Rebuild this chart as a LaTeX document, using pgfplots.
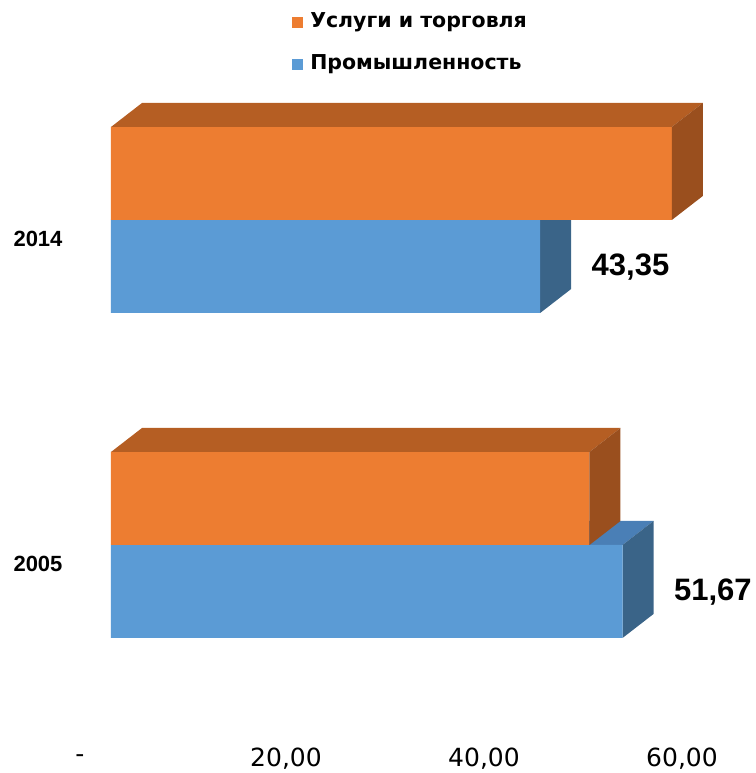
\documentclass[border=0pt]{standalone}
\usepackage{pgfplots}
\pgfplotsset{compat=1.18}
\usepackage{fontspec}
\setmainfont{Liberation Sans}
\newfontfamily\gothic{DejaVu Sans}

\definecolor{orFront}{HTML}{ED7D31}
\definecolor{orTop}{HTML}{B55E23}
\definecolor{orSide}{HTML}{9A4F1E}
\definecolor{blFront}{HTML}{5B9BD5}
\definecolor{blTop}{HTML}{4A7FB6}
\definecolor{blSide}{HTML}{3A6488}

\begin{document}
\begin{tikzpicture}
\path[use as bounding box] (0,0) rectangle (755pt,773pt);
\begin{axis}[
  at={(111pt,0pt)}, anchor=south west,
  scale only axis, width=594pt, height=773pt,
  xmin=0, xmax=60, ymin=-0.70154, ymax=1.67692,
  clip=false,
  axis line style={draw=none}, major tick length=0pt,
  xtick={0,20,40,60},
  xticklabels={{-\rule{16pt}{0pt}},{20,00},{40,00},{60,00}},
  xticklabel style={anchor=center, xshift=-23pt, yshift=14pt,
    font=\gothic\fontsize{25}{29}\selectfont},
  ytick={0,1}, yticklabels={2005,2014},
  yticklabel style={anchor=center, xshift=-73pt, yshift=-19pt,
    font=\bfseries\fontsize{22}{26}\selectfont},
  legend style={at={(0.304,0.987)}, anchor=north west, draw=none, fill=none,
    inner sep=0pt, row sep=21.5pt,
    font=\gothic\bfseries\fontsize{20.5}{25}\selectfont,
    /tikz/every odd column/.append style={column sep=5pt}},
  legend cell align=left,
  legend image code/.code={\fill[#1, draw=none] (0pt,-8pt) rectangle (11.5pt,3.5pt);},
]
% legend entries (orange first)
\addlegendimage{fill=orFront, draw=none}
\addlegendentry{Услуги и торговля}
\addlegendimage{fill=blFront, draw=none}
\addlegendentry{Промышленность}

% Промышленность: top and side faces
\addplot[fill=blTop, draw=none, forget plot] coordinates {(0,1) (43.35,1) (46.48,1.07385) (3.13,1.07385)};
\addplot[fill=blTop, draw=none, forget plot] coordinates {(0,0) (51.67,0) (54.80,0.07385) (3.13,0.07385)};
\addplot[fill=blSide, draw=none, forget plot] coordinates {(43.35,0.71385) (43.35,1) (46.48,1.07385) (46.48,0.78770)};
\addplot[fill=blSide, draw=none, forget plot] coordinates {(51.67,-0.28615) (51.67,0) (54.80,0.07385) (54.80,-0.21230)};
% Промышленность: front
\addplot[xbar, bar width=93pt, bar shift=-46.5pt, fill=blFront, draw=none, forget plot,
  point meta=x,
  nodes near coords={\pgfmathprintnumber[fixed, fixed zerofill, precision=2, use comma, assume math mode=true]{\pgfplotspointmeta}},
  every node near coord/.append style={anchor=west, xshift=48pt, yshift=-47.5pt,
    font=\bfseries\fontsize{31}{35}\selectfont, text=black}]
  coordinates {(43.35,1) (51.67,0)};

% Услуги и торговля: front
\addplot[xbar, bar width=93pt, bar shift=46.5pt, fill=orFront, draw=none, forget plot]
  coordinates {(56.65,1) (48.33,0)};
% Услуги и торговля: top and side faces
\addplot[fill=orTop, draw=none, forget plot] coordinates {(0,1.28615) (56.65,1.28615) (59.78,1.36) (3.13,1.36)};
\addplot[fill=orTop, draw=none, forget plot] coordinates {(0,0.28615) (48.33,0.28615) (51.46,0.36) (3.13,0.36)};
\addplot[fill=orSide, draw=none, forget plot] coordinates {(56.65,1) (56.65,1.28615) (59.78,1.36) (59.78,1.07385)};
\addplot[fill=orSide, draw=none, forget plot] coordinates {(48.33,0) (48.33,0.28615) (51.46,0.36) (51.46,0.07385)};
\end{axis}
\end{tikzpicture}
\end{document}
